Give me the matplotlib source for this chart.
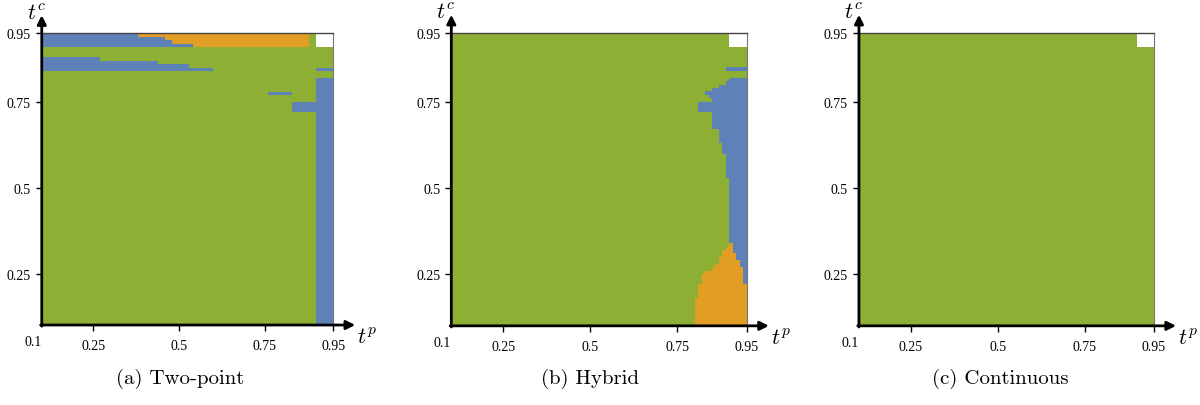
import numpy as np
import matplotlib
matplotlib.use("Agg")
from matplotlib import pyplot as plt
from matplotlib.colors import ListedColormap

plt.rcParams['mathtext.fontset'] = 'cm'

# region codes: 0 green, 1 blue, 2 orange, 3 white (no result)
region_colors = ['#8DB034', '#5E82B8', '#E29D24', '#FFFFFF']

tick_values = [0.25, 0.5, 0.75, 0.95]
tick_labels = ['0.25', '0.5', '0.75', '0.95']
captions = ['(a) Two-point', '(b) Hybrid', '(c) Continuous']

# (tp0, tp1, tc0, tc1, code) painted in order, green is the background
two_point_regions = [
    (0.10, 0.88, 0.91, 0.95, 1),
    (0.38, 0.88, 0.94, 0.95, 2),
    (0.46, 0.88, 0.93, 0.94, 2),
    (0.48, 0.88, 0.92, 0.93, 2),
    (0.54, 0.88, 0.91, 0.92, 2),
    (0.90, 0.95, 0.91, 0.95, 3),
    (0.10, 0.27, 0.87, 0.88, 1),
    (0.10, 0.44, 0.86, 0.87, 1),
    (0.10, 0.53, 0.85, 0.86, 1),
    (0.10, 0.60, 0.84, 0.85, 1),
    (0.90, 0.95, 0.84, 0.85, 1),
    (0.90, 0.95, 0.10, 0.82, 1),
    (0.76, 0.83, 0.77, 0.78, 1),
    (0.83, 0.90, 0.72, 0.75, 1),
]

# hybrid: blue rows reach the right edge, (tc0, tc1, tp_left)
hybrid_blue_rows = [
    (0.84, 0.85, 0.89),
    (0.81, 0.82, 0.90),
    (0.80, 0.81, 0.89),
    (0.79, 0.80, 0.87),
    (0.78, 0.79, 0.85),
    (0.77, 0.78, 0.83),
    (0.76, 0.77, 0.84),
    (0.75, 0.76, 0.85),
    (0.72, 0.75, 0.81),
    (0.67, 0.72, 0.85),
    (0.63, 0.67, 0.87),
    (0.60, 0.63, 0.88),
    (0.53, 0.60, 0.89),
    (0.22, 0.53, 0.90),
]
# orange rows (tc0, tc1, tp_left, tp_right)
hybrid_orange_rows = [
    (0.33, 0.34, 0.90, 0.91),
    (0.32, 0.33, 0.89, 0.91),
    (0.31, 0.32, 0.88, 0.91),
    (0.30, 0.31, 0.88, 0.92),
    (0.29, 0.30, 0.87, 0.92),
    (0.28, 0.29, 0.87, 0.93),
    (0.27, 0.28, 0.86, 0.93),
    (0.26, 0.27, 0.85, 0.94),
    (0.25, 0.26, 0.83, 0.94),
    (0.22, 0.25, 0.82, 0.94),
    (0.18, 0.22, 0.81, 0.95),
    (0.10, 0.18, 0.80, 0.95),
]
no_result_cell = (0.90, 0.95, 0.91, 0.95)

edges = np.round(np.arange(0.10, 0.9501, 0.01), 2)
centers = (edges[:-1] + edges[1:]) / 2


def paint(grid, tp0, tp1, tc0, tc1, code):
    cols = (centers > tp0) & (centers < tp1)
    rows = (centers > tc0) & (centers < tc1)
    grid[np.ix_(rows, cols)] = code


grid_a = np.zeros((len(centers), len(centers)))
for r in two_point_regions:
    paint(grid_a, *r)

grid_b = np.zeros((len(centers), len(centers)))
for tc0, tc1, left in hybrid_blue_rows:
    paint(grid_b, left, 0.95, tc0, tc1, 1)
for tc0, tc1, left, right in hybrid_orange_rows:
    paint(grid_b, left, 0.95, tc0, tc1, 1)
    paint(grid_b, left, right, tc0, tc1, 2)
paint(grid_b, *no_result_cell, 3)

grid_c = np.zeros((len(centers), len(centers)))
paint(grid_c, *no_result_cell, 3)

fig = plt.figure(figsize=(12, 4.06), dpi=100)
cmap = ListedColormap(region_colors)

boxes = [(0.0348, 0.197, 0.243, 0.7185),
         (0.3761, 0.195, 0.2462, 0.7215),
         (0.7158, 0.195, 0.2458, 0.7215)]
caption_x = [180 / 1200, 590 / 1200, 1000 / 1200]

for i, grid in enumerate([grid_a, grid_b, grid_c]):
    ax = fig.add_axes(boxes[i])
    ax.pcolormesh(edges, edges, grid, cmap=cmap, vmin=-0.5, vmax=3.5)
    ax.set_xlim(0.10, 0.95)
    ax.set_ylim(0.10, 0.95)

    ax.spines['left'].set_visible(False)
    ax.spines['bottom'].set_visible(False)
    ax.spines['top'].set_color('#444444')
    ax.spines['top'].set_linewidth(1.0)
    ax.spines['right'].set_color('#777777')
    ax.spines['right'].set_linewidth(0.8)

    ax.set_xticks(tick_values)
    ax.set_xticklabels(tick_labels, family='Liberation Serif', fontsize=10)
    ax.set_yticks(tick_values)
    ax.set_yticklabels(tick_labels, family='Liberation Serif', fontsize=10)
    ax.tick_params(direction='out', length=4, width=1, color='k', pad=4)
    ax.tick_params(axis='x', pad=6)

    # axes with arrow heads
    ax.annotate('', xy=(1.075, 0), xytext=(-0.004, 0), xycoords='axes fraction',
                arrowprops=dict(arrowstyle='-|>', lw=2, color='k', mutation_scale=13,
                                shrinkA=0, shrinkB=0), annotation_clip=False)
    ax.annotate('', xy=(0, 1.062), xytext=(0, -0.004), xycoords='axes fraction',
                arrowprops=dict(arrowstyle='-|>', lw=2, color='k', mutation_scale=13,
                                shrinkA=0, shrinkB=0), annotation_clip=False)

    ax.text(-0.03, -0.058, '0.1', transform=ax.transAxes, ha='center', va='center',
            family='Liberation Serif', fontsize=10)
    ax.text(-0.018, 1.07, '$t^c$', transform=ax.transAxes, ha='center', va='center',
            fontsize=16)
    ax.text(1.115, -0.04, '$t^p$', transform=ax.transAxes, ha='center', va='center',
            fontsize=16)

    fig.text(caption_x[i], 0.066, captions[i], ha='center', va='center',
             family='cmr10', fontsize=15)

fig.savefig('out.png', dpi=100)
